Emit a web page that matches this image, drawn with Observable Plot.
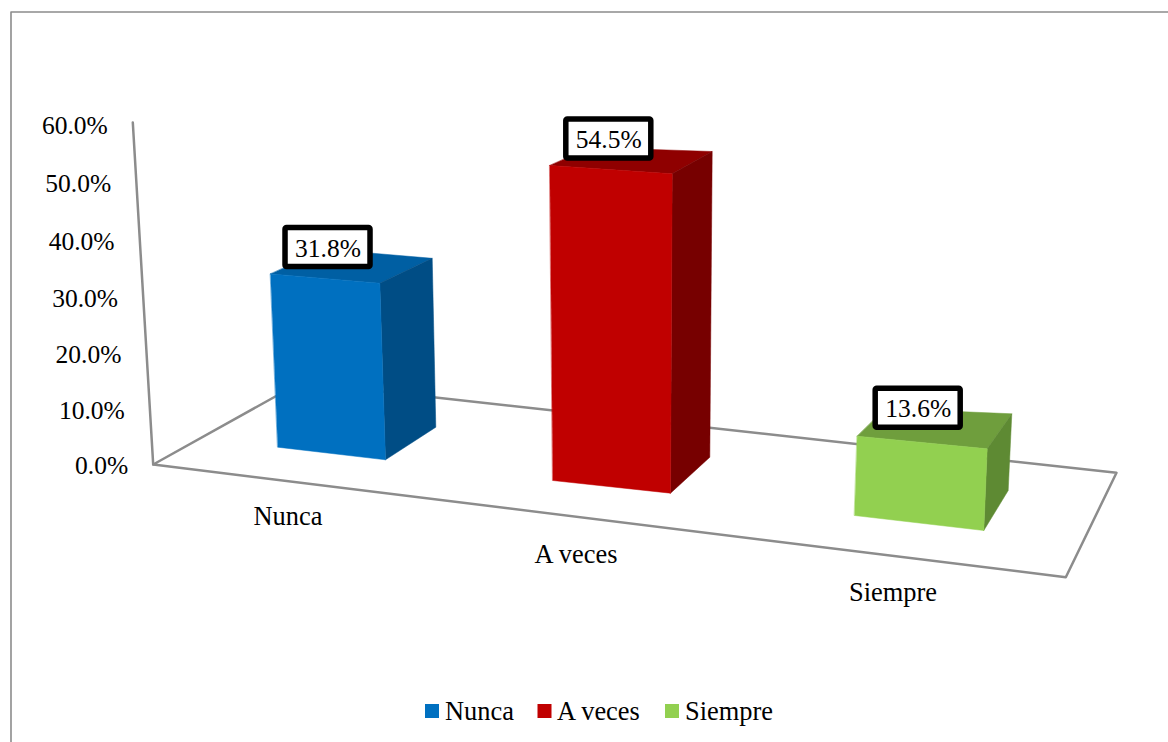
<!DOCTYPE html>
<html>
<head>
<meta charset="utf-8">
<script src="https://cdn.jsdelivr.net/npm/d3@7"></script>
<script src="https://cdn.jsdelivr.net/npm/@observablehq/plot@0.6"></script>
<style>
html,body{margin:0;padding:0;background:#fff;overflow:hidden}
svg{display:block}
</style>
</head>
<body>
<div id="chart"></div>
<script>
// ---- data ----
const categories = ["Nunca", "A veces", "Siempre"];
const values = [31.8, 54.5, 13.6];
const valueLabels = ["31.8%", "54.5%", "13.6%"];
const tickValues = [0, 10, 20, 30, 40, 50, 60];
const tickLabels = ["0.0%", "10.0%", "20.0%", "30.0%", "40.0%", "50.0%", "60.0%"];

// ---- styles ----
const frontColors = ["#0070C0", "#C00000", "#92D050"];
const topColors = ["#005FA3", "#8F0000", "#6F9E3D"];
const sideColors = ["#004D85", "#770000", "#5E8A33"];
const gridColor = "#8C8C8C";
const font = "'Liberation Serif', 'Times New Roman', serif";

// ---- 3D layout: screen position of the floor, and for every bar where its
// four base corners sit and how far each corner climbs per percentage point ----
const W = 1168, H = 742;
const floorPath = [[152.7, 464], [1065.3, 576.7], [1116, 472.3], [300, 382]];
const axisBase = [152.7, 464], axisTopX = 132.3, axisTopY = 122, axisMax = 60;
const tickScale = v => 465 - 5.468 * v / (1 - 0.00058 * v);
const barBases = [
  {bl: [277.3, 446.7], br: [385, 459.3], rb: [435.3, 426.7], lb: [325, 416]},
  {bl: [552.3, 480],   br: [670, 492.7], rb: [709.3, 456.7], lb: [592, 445]},
  {bl: [854, 515],     br: [983.3, 530], rb: [1007.7, 490],  lb: [882, 476]}
];
const barTops = [ // climb per percent for each corner
  {bl: [-0.229, -5.450], br: [-0.179, -5.553], rb: [-0.113, -5.311], lb: [0, -5.26]},
  {bl: [-0.055, -5.780], br: [0.031, -5.860], rb: [0.044, -5.609], lb: [-0.037, -5.47]},
  {bl: [0.198, -5.831], br: [0.250, -6.007], rb: [0.265, -5.640], lb: [0.22, -5.0]}
];
const boxOffset = [[15, -46], [16.5, -46], [18.5, -47.5]];
const boxSize = [85, 39];
const categoryPos = [[287.5, 516], [575.5, 554], [892.5, 592]];
const legendSwatchX = [425, 537.5, 665], legendTextX = [444.5, 556.5, 684.5];
const legendSwatch = 14, legendSwatchTop = 704, legendTextY = 711.5;

const climb = (i, c) => [
  barBases[i][c][0] + values[i] * barTops[i][c][0],
  barBases[i][c][1] + values[i] * barTops[i][c][1]
];
const base = (i, c) => barBases[i][c];
const face = pts => pts.map(([x, y]) => ({x, y}));

const polygon = (pts, fill) => Plot.line(face(pts), {
  x: "x", y: "y", curve: "linear-closed", fill, stroke: fill, strokeWidth: 0.5
});

const barMarks = categories.flatMap((_, i) => [
  polygon([climb(i, "bl"), climb(i, "br"), climb(i, "rb"), climb(i, "lb")], topColors[i]),
  polygon([base(i, "br"), base(i, "rb"), climb(i, "rb"), climb(i, "br")], sideColors[i]),
  polygon([base(i, "bl"), base(i, "br"), climb(i, "br"), climb(i, "bl")], frontColors[i])
]);

const boxes = categories.map((_, i) => {
  const [tx, ty] = climb(i, "bl");
  const x1 = tx + boxOffset[i][0], y1 = ty + boxOffset[i][1];
  return {x1, x2: x1 + boxSize[0], y1, y2: y1 + boxSize[1], label: valueLabels[i]};
});

const ticks = tickValues.map((v, i) => ({
  x: axisBase[0] + (axisTopX - axisBase[0]) * v / axisMax - 25,
  y: tickScale(v),
  label: tickLabels[i]
}));

const plot = Plot.plot({
  width: W, height: H,
  margin: 0,
  style: {background: "#fff", fontFamily: font},
  x: {type: "linear", domain: [0, W], range: [0, W], axis: null},
  y: {type: "linear", domain: [0, H], range: [0, H], axis: null},
  marks: [
    // outer frame
    Plot.line(face([[10.5, H], [10.5, 11.5], [W, 11.5]]), {x: "x", y: "y", stroke: gridColor, strokeWidth: 1.6}),
    // floor and value axis
    polygon(floorPath, "#fff"),
    Plot.line(face(floorPath), {x: "x", y: "y", curve: "linear-closed", stroke: gridColor, strokeWidth: 2.5}),
    Plot.line(face([axisBase, [axisTopX, axisTopY]]), {x: "x", y: "y", stroke: gridColor, strokeWidth: 2.5}),
    ...barMarks,
    // value labels
    Plot.rect(boxes, {x1: "x1", x2: "x2", y1: "y1", y2: "y2", fill: "#fff", stroke: "#000", strokeWidth: 5.5, rx: 1.5}),
    Plot.text(boxes, {x: d => (d.x1 + d.x2) / 2, y: d => (d.y1 + d.y2) / 2 + 1, text: "label", fontSize: 25.5, fill: "#000"}),
    // tick labels
    Plot.text(ticks, {x: "x", y: "y", text: "label", textAnchor: "end", fontSize: 25.5, fill: "#000"}),
    // category labels
    Plot.text(categories, {x: (_, i) => categoryPos[i][0], y: (_, i) => categoryPos[i][1], text: d => d, fontSize: 26.4, fill: "#000"}),
    // legend
    Plot.rect(categories, {
      x1: (_, i) => legendSwatchX[i], x2: (_, i) => legendSwatchX[i] + legendSwatch,
      y1: legendSwatchTop, y2: legendSwatchTop + legendSwatch,
      fill: (_, i) => frontColors[i]
    }),
    Plot.text(categories, {x: (_, i) => legendTextX[i], y: legendTextY, text: d => d, textAnchor: "start", fontSize: 26.4, fill: "#000"})
  ]
});
document.getElementById("chart").appendChild(plot);
</script>
</body>
</html>
